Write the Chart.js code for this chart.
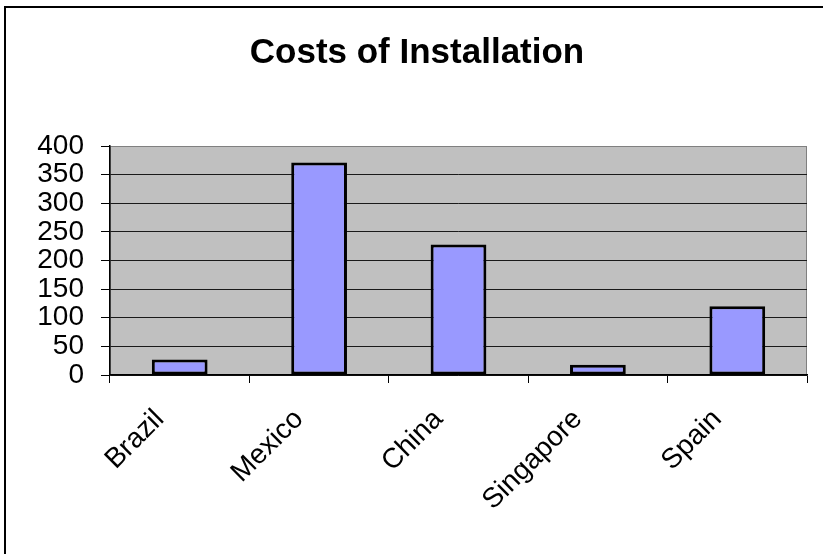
<!DOCTYPE html>
<html>
<head>
<meta charset="utf-8">
<title>Costs of Installation</title>
<script src="https://cdn.jsdelivr.net/npm/chart.js@4.4.1/dist/chart.umd.min.js"></script>
<style>
    html, body { margin: 0; padding: 0; background: #ffffff; }
    #wrap { width: 823px; height: 554px; }
</style>
</head>
<body>
<div id="wrap"><canvas id="costChart" width="823" height="554"></canvas></div>
<script>
// Chart data
const countries = ['Brazil', 'Mexico', 'China', 'Singapore', 'Spain'];
const installCosts = [27, 371, 228, 18, 120];
const yTickValues = [0, 50, 100, 150, 200, 250, 300, 350, 400];

const FONT = "'Liberation Sans', Arial, sans-serif";

// Grey plot area with a thin grey edge
const plotBackground = {
    id: 'plotBackground',
    beforeDraw(chart) {
        const { ctx, chartArea: a } = chart;
        ctx.save();
        ctx.fillStyle = '#c0c0c0';
        ctx.fillRect(a.left, a.top, a.right - a.left, a.bottom - a.top);
        ctx.strokeStyle = '#808080';
        ctx.lineWidth = 1;
        ctx.strokeRect(a.left + 0.5, a.top + 0.5, a.right - a.left - 1, a.bottom - a.top - 1);
        ctx.restore();
    }
};

// Outer frame: only the top and left edges show
const outerFrame = {
    id: 'outerFrame',
    afterDraw(chart) {
        const { ctx, width, height } = chart;
        ctx.save();
        ctx.strokeStyle = '#000';
        ctx.lineWidth = 2;
        ctx.beginPath();
        ctx.moveTo(5, height);
        ctx.lineTo(5, 7);
        ctx.lineTo(width, 7);
        ctx.stroke();
        ctx.restore();
    }
};

const chart = new Chart(document.getElementById('costChart'), {
    type: 'bar',
    data: {
        labels: countries,
        datasets: [{
            data: installCosts,
            backgroundColor: '#9999ff',
            borderColor: '#000',
            borderWidth: 3,
            borderSkipped: false,
            barPercentage: 0.4,
            categoryPercentage: 1.0
        }]
    },
    options: {
        responsive: false,
        animation: false,
        devicePixelRatio: 1,
        // left padding keeps the title centred where the frame puts it
        layout: { padding: { top: 0, right: 16, bottom: 0, left: 27 } },
        plugins: {
            legend: { display: false },
            tooltip: { enabled: false },
            title: {
                display: true,
                text: 'Costs of Installation',
                color: '#000',
                font: { family: FONT, size: 35, weight: 'bold', lineHeight: 1.2 },
                padding: { top: 32, bottom: 72 }
            }
        },
        scales: {
            x: {
                grid: {
                    offset: true,
                    drawOnChartArea: false,
                    tickLength: 8,
                    color: '#000'
                },
                border: { color: '#000', width: 1.5 },
                ticks: {
                    color: '#000',
                    font: { family: FONT, size: 28 },
                    minRotation: 45,
                    maxRotation: 45,
                    autoSkip: false,
                    padding: 20,
                    labelOffset: -20
                },
                afterFit(scale) { scale.height = 179; }
            },
            y: {
                min: 0,
                max: 400,
                afterBuildTicks(scale) {
                    scale.ticks = yTickValues.map(v => ({ value: v }));
                },
                grid: {
                    color: ctx => (ctx.tick && ctx.tick.value === 400) ? '#808080' : '#1a1a1a',
                    tickColor: '#000',
                    tickLength: 9,
                    lineWidth: 1
                },
                border: { color: '#000', width: 1.5 },
                ticks: {
                    color: '#000',
                    font: { family: FONT, size: 28, lineHeight: 1 },
                    autoSkip: false,
                    padding: 17
                },
                afterFit(scale) { scale.width = 83; }
            }
        }
    },
    plugins: [plotBackground, outerFrame]
});
</script>
</body>
</html>
